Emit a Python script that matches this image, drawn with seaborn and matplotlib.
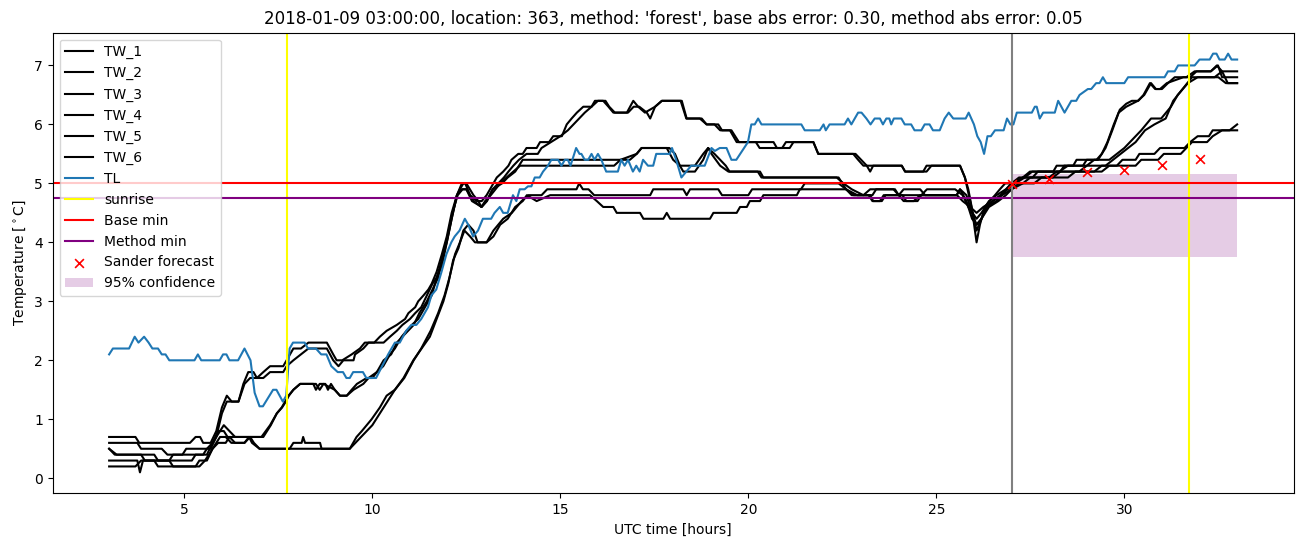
import matplotlib
matplotlib.use("Agg")
import matplotlib.pyplot as plt
import seaborn as sns

# ---------------- data (hour, value) ----------------
tw1 = [(3.0,0.7),(3.7,0.7),(3.8,0.6),(5.15,0.6),(5.3,0.7),(5.42,0.7),(5.5,0.6),(5.7,0.6),(5.85,0.8),(6.0,1.2),
       (6.13,1.4),(6.26,1.3),(6.44,1.3),(6.57,1.6),(6.7,1.8),(6.84,1.8),(6.93,1.7),(7.1,1.8),(7.28,1.9),(7.63,1.9),
       (7.72,2.0),(7.9,2.2),(8.1,2.2),(8.3,2.3),(8.79,2.3),(8.96,2.1),(9.05,2.0),(9.2,2.0),(9.45,2.1),(9.67,2.2),
       (9.8,2.3),(10.05,2.3),(10.2,2.4),(10.38,2.5),(10.65,2.6),(10.87,2.7),(10.96,2.8),(11.14,2.9),(11.22,3.0),
       (11.36,3.1),(11.49,3.2),(11.58,3.3),(11.71,3.5),(11.85,3.8),(11.98,4.1),(12.11,4.5),(12.25,4.8),(12.38,5.0),
       (12.47,5.0),(12.6,4.8),(12.78,4.7),(12.91,4.7),(13.04,4.8),(13.13,4.9),(13.31,5.1),(13.48,5.2),(13.62,5.3),
       (13.7,5.4),(13.88,5.5),(14.0,5.5),(14.1,5.6),(14.37,5.6),(14.46,5.7),(14.7,5.7),(14.81,5.8),(15.04,5.8),
       (15.17,6.0),(15.3,6.1),(15.44,6.2),(15.61,6.3),(15.83,6.3),(15.92,6.4),(16.14,6.4),(16.28,6.3),(16.41,6.2),
       (16.77,6.2),(16.94,6.4),(17.07,6.3),(17.25,6.2),(17.52,6.3),(17.7,6.4),(18.23,6.4),(18.36,6.1),(18.71,6.1),
       (18.89,6.0),(19.1,6.0),(19.25,5.9),(19.51,5.9),(19.69,5.7),(20.67,5.7),(20.76,5.6),(20.9,5.6),(21.0,5.7),
       (21.73,5.7),(21.86,5.5),(22.79,5.5),(22.92,5.4),(23.06,5.3),(24.08,5.3),(24.17,5.2),(24.65,5.2),(24.74,5.3),
       (25.63,5.3),(25.76,5.1),(25.85,4.9),(25.94,4.6),(26.07,4.0),(26.16,4.3),(26.29,4.6),(26.42,4.7),(26.56,4.8),
       (26.69,4.9),(26.83,5.0),(27.05,5.0),(27.3,5.1),(27.49,5.2),(28.11,5.2),(28.2,5.3),(28.64,5.3),(28.73,5.4),
       (29.26,5.4),(29.4,5.5),(29.55,5.7),(29.72,6.0),(29.88,6.25),(30.05,6.35),(30.2,6.4),(30.37,6.4),(30.51,6.5),
       (30.68,6.7),(30.82,6.6),(30.95,6.6),(31.13,6.7),(31.57,6.8),(31.75,6.8),(31.92,6.9),(32.3,6.9),(32.46,7.0),
       (32.6,6.9),(33.0,6.9)]
tw2 = [(3.0,0.6),(3.75,0.6),(3.85,0.5),(4.4,0.5),(4.55,0.4),(4.95,0.4),(5.05,0.5),(5.7,0.5),(5.85,0.7),(6.0,1.1),
       (6.13,1.3),(6.44,1.3),(6.6,1.6),(6.75,1.7),(7.1,1.7),(7.28,1.8),(7.63,1.8),(7.72,1.9),(7.9,2.0),(8.1,2.1),
       (8.3,2.2),(8.79,2.2),(8.96,2.0),(9.1,1.9),(9.23,2.0),(9.5,2.0),(9.54,2.1),(9.76,2.2),(9.9,2.3),(10.3,2.3),
       (10.47,2.4),(10.65,2.5),(10.8,2.6),(11.0,2.7),(11.14,2.8),(11.3,2.9),(11.45,3.1),(11.6,3.3),(11.71,3.4),
       (11.85,3.7),(11.98,4.0),(12.11,4.4),(12.25,4.8),(12.38,4.9),(12.5,4.9),(12.65,4.7),(12.91,4.6),(13.04,4.7),
       (13.2,4.9),(13.35,5.0),(13.5,5.1),(13.62,5.2),(13.75,5.3),(13.9,5.4),(14.1,5.5),(14.4,5.5),(14.5,5.6),
       (14.75,5.7),(15.0,5.8),(15.2,5.9),(15.35,6.0),(15.5,6.1),(15.65,6.2),(15.83,6.3),(16.0,6.4),(16.2,6.4),
       (16.3,6.3),(16.45,6.2),(16.8,6.2),(16.95,6.3),(17.1,6.3),(17.3,6.2),(17.39,6.1),(17.52,6.3),(17.7,6.4),
       (18.2,6.4),(18.35,6.1),(18.76,6.1),(18.89,6.0),(19.2,6.0),(19.3,5.9),(19.55,5.9),(19.75,5.7),(20.2,5.7),
       (20.3,5.6),(21.1,5.6),(21.2,5.7),(21.73,5.7),(21.86,5.5),(22.85,5.5),(23.0,5.4),(23.15,5.3),(23.24,5.2),
       (23.32,5.3),(24.08,5.3),(24.17,5.2),(24.74,5.2),(24.87,5.3),(25.63,5.3),(25.76,5.1),(25.9,4.7),(26.07,4.2),
       (26.2,4.4),(26.35,4.6),(26.5,4.7),(26.7,4.8),(26.9,4.9),(27.1,5.0),(27.35,5.1),(27.55,5.2),(28.3,5.2),
       (28.4,5.3),(28.9,5.3),(29.0,5.4),(29.3,5.4),(29.5,5.6),(29.68,5.9),(29.85,6.2),(30.05,6.3),(30.36,6.4),
       (30.53,6.5),(30.71,6.7),(30.84,6.6),(31.0,6.6),(31.16,6.7),(31.34,6.8),(31.65,6.8),(31.87,6.9),(32.3,6.9),
       (32.49,7.0),(32.6,6.8),(33.0,6.8)]
tw3 = [(3.0,0.5),(3.2,0.4),(4.2,0.4),(4.3,0.3),(5.2,0.3),(5.3,0.4),(5.6,0.4),(5.75,0.6),(5.95,0.8),(6.05,0.9),
       (6.2,0.8),(6.35,0.7),(7.1,0.7),(7.3,0.9),(7.46,1.1),(7.6,1.2),(7.7,1.3),(7.78,1.4),(7.9,1.5),(8.08,1.6),
       (8.43,1.6),(8.5,1.5),(8.6,1.6),(8.75,1.6),(8.82,1.5),(8.9,1.6),(9.0,1.5),(9.14,1.4),(9.32,1.4),(9.45,1.5),
       (9.59,1.6),(9.85,1.7),(10.0,1.7),(10.12,1.8),(10.29,1.9),(10.47,2.1),(10.6,2.2),(10.78,2.4),(10.91,2.5),
       (11.05,2.6),(11.22,2.7),(11.4,2.9),(11.58,3.1),(11.71,3.4),(11.85,3.6),(11.98,4.0),(12.11,4.4),(12.25,4.8),
       (12.33,4.9),(12.42,5.0),(12.5,5.0),(12.69,4.8),(12.82,4.7),(12.9,4.6),(13.0,4.7),(13.15,4.8),(13.4,5.0),
       (13.57,5.1),(13.75,5.2),(13.93,5.3),(16.43,5.3),(16.6,5.4),(17.03,5.5),(17.16,5.6),(17.83,5.6),(18.0,5.4),
       (18.18,5.3),(18.27,5.2),(18.58,5.2),(18.8,5.4),(18.93,5.6),(19.02,5.5),(19.25,5.3),(19.47,5.2),(20.31,5.2),
       (20.4,5.1),(22.35,5.1),(22.53,5.0),(22.75,4.9),(23.06,4.8),(23.24,4.9),(23.86,4.9),(24.0,4.8),(24.13,4.9),
       (24.57,4.9),(24.7,4.8),(25.54,4.8),(25.63,4.9),(25.8,4.8),(25.95,4.5),(26.07,4.3),(26.2,4.4),(26.33,4.6),
       (26.6,4.7),(26.86,4.9),(27.0,5.0),(27.2,5.1),(27.56,5.1),(27.7,5.2),(28.27,5.2),(28.5,5.3),(29.0,5.3),
       (29.2,5.4),(29.6,5.4),(29.8,5.5),(30.0,5.6),(30.45,5.9),(30.71,6.1),(30.98,6.1),(31.24,6.3),(31.42,6.5),
       (31.69,6.7),(31.95,6.8),(32.5,6.8),(32.7,6.7),(33.0,6.7)]
tw4 = [(3.0,0.5),(3.15,0.4),(3.85,0.4),(3.95,0.3),(4.6,0.3),(4.7,0.4),(5.5,0.4),(5.6,0.5),(5.75,0.6),(5.9,0.8),
       (6.05,0.8),(6.15,0.7),(7.05,0.7),(7.28,0.9),(7.46,1.1),(7.59,1.2),(7.68,1.3),(7.77,1.4),(7.9,1.5),(8.08,1.6),
       (8.5,1.6),(8.6,1.5),(8.7,1.6),(9.0,1.5),(9.14,1.4),(9.32,1.4),(9.5,1.5),(9.76,1.6),(9.9,1.7),(10.12,1.8),
       (10.3,2.0),(10.5,2.1),(10.65,2.3),(10.8,2.4),(10.95,2.5),(11.1,2.6),(11.25,2.8),(11.45,3.0),(11.6,3.2),
       (11.75,3.4),(11.88,3.8),(12.0,4.1),(12.13,4.5),(12.27,4.8),(12.4,4.9),(12.5,4.9),(12.7,4.7),(12.9,4.6),
       (13.05,4.7),(13.2,4.9),(13.45,5.0),(13.6,5.1),(13.8,5.2),(14.0,5.4),(16.85,5.4),(17.03,5.5),(17.16,5.6),
       (17.9,5.6),(18.05,5.5),(18.18,5.3),(18.58,5.3),(18.8,5.5),(18.93,5.6),(19.1,5.5),(19.25,5.4),(19.4,5.3),
       (19.5,5.2),(20.25,5.2),(20.35,5.1),(22.4,5.1),(22.6,4.9),(22.75,4.8),(23.24,4.8),(23.32,4.7),(23.5,4.7),
       (23.6,4.8),(24.0,4.8),(24.13,4.7),(24.4,4.7),(24.57,4.8),(25.54,4.8),(25.63,4.9),(25.8,4.7),(25.95,4.4),
       (26.07,4.3),(26.2,4.4),(26.4,4.6),(26.65,4.7),(26.85,4.8),(27.0,4.9),(27.3,5.0),(27.5,5.1),(28.0,5.1),
       (28.2,5.2),(28.8,5.2),(29.0,5.3),(29.5,5.3),(29.7,5.4),(30.1,5.6),(30.3,5.7),(30.55,5.9),(30.8,6.0),
       (31.1,6.1),(31.3,6.4),(31.55,6.6),(31.8,6.8),(32.4,6.8),(32.6,6.9),(32.75,6.7),(33.0,6.7)]
tw5 = [(3.0,0.3),(3.75,0.3),(3.82,0.1),(3.9,0.3),(4.6,0.3),(4.7,0.2),(5.3,0.2),(5.4,0.3),(5.6,0.3),(5.75,0.5),
       (5.95,0.7),(6.1,0.7),(6.25,0.6),(6.6,0.6),(6.72,0.7),(6.8,0.6),(7.0,0.5),(7.8,0.5),(7.9,0.6),(8.12,0.6),
       (8.16,0.7),(8.21,0.6),(8.61,0.6),(8.65,0.5),(9.4,0.5),(9.58,0.7),(9.72,0.8),(9.85,0.9),(9.98,1.0),(10.2,1.2),
       (10.38,1.4),(10.6,1.5),(10.83,1.7),(11.09,2.0),(11.31,2.2),(11.53,2.4),(11.71,2.7),(11.89,3.0),(12.02,3.3),
       (12.15,3.7),(12.29,3.9),(12.42,4.2),(12.55,4.3),(12.69,4.2),(12.8,4.0),(13.04,4.0),(13.22,4.2),(13.48,4.4),
       (13.71,4.5),(13.97,4.7),(14.15,4.8),(14.5,4.8),(14.65,4.9),(15.43,4.9),(15.5,5.0),(15.6,4.9),(15.75,4.9),
       (15.9,4.8),(17.39,4.8),(17.47,4.9),(18.27,4.9),(18.36,4.8),(18.45,4.9),(19.2,4.9),(19.3,4.8),(20.0,4.8),
       (20.1,4.9),(21.4,4.9),(21.5,5.0),(22.4,5.0),(22.6,4.9),(22.9,4.8),(23.3,4.8),(23.4,4.9),(23.9,4.9),
       (24.0,4.8),(24.6,4.8),(24.75,4.9),(25.5,4.9),(25.7,4.8),(25.85,4.6),(26.07,4.4),(26.2,4.5),(26.4,4.7),
       (26.6,4.8),(26.85,4.9),(27.0,5.0),(27.3,5.1),(28.1,5.1),(28.3,5.2),(29.2,5.2),(29.4,5.3),(29.8,5.3),
       (29.95,5.4),(30.3,5.4),(30.4,5.5),(30.8,5.5),(30.95,5.6),(31.6,5.6),(31.75,5.7),(31.95,5.8),(32.25,5.8),
       (32.35,5.9),(32.8,5.9),(33.0,6.0)]
tw6 = [(3.0,0.2),(3.7,0.2),(3.85,0.3),(4.2,0.3),(4.3,0.2),(5.4,0.2),(5.55,0.3),(5.75,0.5),(5.9,0.6),(6.1,0.6),
       (6.2,0.7),(6.35,0.6),(6.6,0.6),(6.75,0.7),(6.85,0.6),(7.0,0.5),(9.4,0.5),(9.55,0.6),(9.7,0.7),(9.85,0.8),
       (10.0,0.9),(10.2,1.1),(10.4,1.3),(10.6,1.5),(10.85,1.7),(11.1,2.0),(11.3,2.2),(11.55,2.5),(11.75,2.8),
       (11.92,3.1),(12.05,3.4),(12.2,3.8),(12.33,4.0),(12.45,4.2),(12.6,4.1),(12.73,4.0),(13.04,4.0),(13.22,4.1),
       (13.4,4.3),(13.6,4.4),(13.8,4.6),(14.0,4.7),(14.11,4.8),(14.37,4.7),(14.73,4.8),(15.79,4.8),(15.97,4.7),
       (16.14,4.6),(16.41,4.6),(16.5,4.5),(17.12,4.5),(17.21,4.4),(17.74,4.4),(17.83,4.5),(17.92,4.4),(18.98,4.4),
       (19.07,4.5),(19.69,4.5),(19.78,4.6),(19.96,4.6),(20.04,4.7),(20.31,4.7),(20.4,4.8),(21.29,4.8),(21.37,4.9),
       (22.6,4.9),(22.8,4.8),(23.2,4.8),(23.3,4.7),(23.55,4.7),(23.65,4.8),(24.1,4.8),(24.2,4.7),(24.5,4.7),
       (24.6,4.8),(25.55,4.8),(25.7,4.7),(25.9,4.6),(26.07,4.5),(26.25,4.6),(26.5,4.7),(26.75,4.8),(27.0,4.9),
       (27.2,5.0),(27.6,5.0),(27.8,5.1),(28.5,5.1),(28.7,5.2),(29.4,5.2),(29.6,5.3),(30.3,5.3),(30.45,5.4),
       (30.9,5.4),(31.05,5.5),(31.5,5.5),(31.65,5.6),(31.8,5.7),(32.2,5.7),(32.35,5.8),(32.6,5.9),(33.0,5.9)]
tl = [(3.0,2.1),(3.1,2.2),(3.53,2.2),(3.68,2.4),(3.78,2.3),(3.93,2.4),(4.05,2.3),(4.15,2.2),(4.3,2.2),(4.4,2.1),
      (4.5,2.1),(4.6,2.0),(5.27,2.0),(5.36,2.1),(5.45,2.0),(5.94,2.0),(6.03,2.1),(6.12,2.1),(6.2,2.0),(6.43,2.0),
      (6.6,2.2),(6.76,2.0),(6.87,1.45),(7.0,1.22),(7.09,1.22),(7.36,1.5),(7.45,1.5),(7.62,1.3),(7.71,1.4),(7.8,2.2),
      (7.89,2.3),(8.2,2.3),(8.29,2.2),(8.5,2.2),(8.64,2.1),(8.78,2.1),(8.91,1.9),(9.08,1.8),(9.22,1.8),(9.31,1.7),
      (9.4,1.7),(9.49,1.8),(9.75,1.8),(9.84,1.7),(10.1,1.7),(10.42,2.1),(10.6,2.3),(10.73,2.3),(10.9,2.5),
      (11.04,2.6),(11.17,2.6),(11.3,2.7),(11.39,2.8),(11.48,2.9),(11.57,3.1),(11.7,3.2),(11.84,3.5),(11.97,3.8),
      (12.1,4.0),(12.19,4.1),(12.32,4.2),(12.46,4.4),(12.55,4.3),(12.68,4.1),(12.81,4.2),(12.94,4.4),(13.16,4.4),
      (13.25,4.5),(13.39,4.6),(13.48,4.5),(13.6,4.5),(13.74,4.8),(13.83,4.7),(13.92,4.9),(14.05,4.9),(14.14,4.95),
      (14.23,4.95),(14.32,5.1),(14.45,5.1),(14.54,5.2),(14.67,5.3),(14.76,5.4),(14.94,5.4),(15.03,5.3),(15.12,5.4),
      (15.2,5.4),(15.27,5.3),(15.42,5.6),(15.51,5.5),(15.56,5.5),(15.65,5.4),(15.74,5.4),(15.83,5.5),(15.91,5.4),
      (16.0,5.5),(16.09,5.4),(16.22,5.2),(16.53,5.2),(16.62,5.4),(16.71,5.3),(16.8,5.4),(16.93,5.2),(17.02,5.3),
      (17.11,5.2),(17.2,5.4),(17.33,5.3),(17.47,5.3),(17.55,5.5),(17.91,5.5),(17.97,5.6),(18.08,5.4),(18.22,5.1),
      (18.35,5.2),(18.48,5.3),(18.84,5.3),(19.02,5.6),(19.11,5.55),(19.24,5.6),(19.42,5.6),(19.55,5.4),(19.68,5.4),
      (19.99,5.7),(20.08,6.0),(20.17,6.0),(20.26,6.1),(20.35,6.0),(21.41,6.0),(21.5,5.9),(21.9,5.9),(22.0,6.0),
      (22.06,5.9),(22.16,6.0),(22.56,6.0),(22.65,6.1),(22.74,6.0),(22.92,6.2),(23.01,6.2),(23.14,6.1),(23.25,6.0),
      (23.36,6.1),(23.5,6.1),(23.58,6.0),(23.67,6.1),(23.75,6.1),(23.8,6.0),(23.87,6.1),(24.07,6.1),(24.16,6.0),
      (24.33,6.0),(24.42,5.9),(24.6,5.9),(24.69,6.0),(24.82,6.0),(24.91,5.9),(25.09,5.9),(25.22,6.1),(25.33,6.2),
      (25.45,6.1),(25.78,6.1),(25.86,6.2),(26.0,6.0),(26.09,5.8),(26.18,5.7),(26.27,5.5),(26.36,5.8),(26.45,5.8),
      (26.56,5.9),(26.79,5.9),(26.88,6.1),(26.97,6.0),(27.05,6.0),(27.14,6.2),(27.54,6.2),(27.62,6.3),(27.67,6.3),
      (27.75,6.1),(27.84,6.2),(28.15,6.2),(28.24,6.4),(28.41,6.2),(28.59,6.4),(28.72,6.4),(28.81,6.5),(29.03,6.6),
      (29.12,6.6),(29.25,6.7),(29.34,6.7),(29.43,6.8),(29.52,6.7),(30.0,6.7),(30.1,6.8),(31.07,6.8),(31.16,6.9),
      (31.34,6.9),(31.43,7.0),(31.87,7.0),(32.0,7.1),(32.27,7.1),(32.36,7.2),(32.45,7.2),(32.53,7.1),(32.67,7.1),
      (32.76,7.2),(32.85,7.1),(33.0,7.1)]

tw_names = ["TW_1", "TW_2", "TW_3", "TW_4", "TW_5", "TW_6"]
sunrise_hours = [7.72, 31.72]
forecast_start = 27.0
base_min = 5.0
method_min = 4.75
forecast_hours = [27, 28, 29, 30, 31, 32]
forecast_values = [4.99, 5.07, 5.2, 5.22, 5.31, 5.41]
conf_hours = [27, 33]
conf_low = [3.76, 3.76]
conf_high = [5.16, 5.16]
title = ("2018-01-09 03:00:00, location: 363, method: 'forest', "
         "base abs error: 0.30, method abs error: 0.05")

# ---------------- plot ----------------
fig, ax = plt.subplots(figsize=(13.02, 5.47), dpi=100)
fig.subplots_adjust(left=0.0405, right=0.9935, top=0.9402, bottom=0.0982)

for name, pts in zip(tw_names, [tw1, tw2, tw3, tw4, tw5, tw6]):
    t, v = zip(*pts)
    sns.lineplot(x=list(t), y=list(v), color="black", linewidth=1.5,
                 label=name, ax=ax, estimator=None)
t, v = zip(*tl)
sns.lineplot(x=list(t), y=list(v), color="#1f77b4", linewidth=1.5,
             label="TL", ax=ax, estimator=None)

ax.axvline(sunrise_hours[0], color="yellow", label="sunrise")
ax.axvline(sunrise_hours[1], color="yellow")
ax.axhline(base_min, color="red", label="Base min")
ax.axhline(method_min, color="purple", label="Method min")
ax.axvline(forecast_start, color="gray")

sns.scatterplot(x=forecast_hours, y=forecast_values, marker="x", color="red",
                s=40, linewidth=1.2, label="Sander forecast", ax=ax, zorder=3)
ax.fill_between(conf_hours, conf_low, conf_high, color="purple", alpha=0.2,
                linewidth=0, label="95% confidence")

ax.set_title(title)
ax.set_xlabel("UTC time [hours]")
ax.set_ylabel(r"Temperature [$^\circ$C]")
ax.legend(loc="upper left")

fig.savefig("out.png", dpi=100)
